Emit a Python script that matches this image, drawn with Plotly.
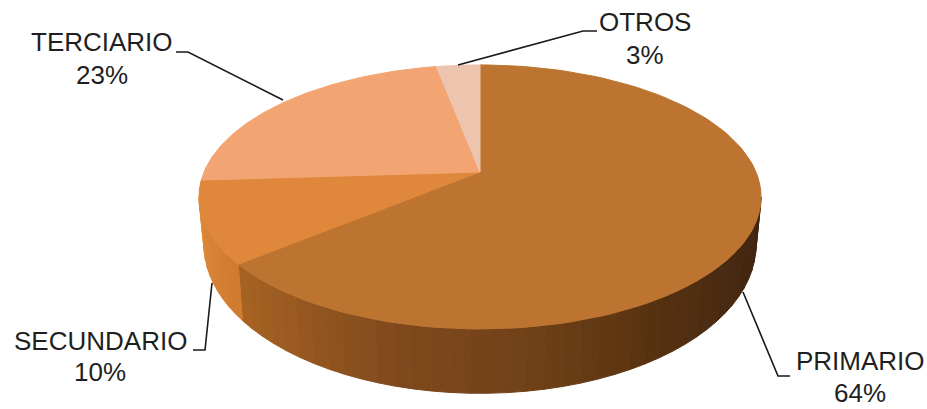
import numpy as np
import plotly.graph_objects as go

# ---- data ----
categories = ["PRIMARIO", "SECUNDARIO", "TERCIARIO", "OTROS"]
shares = [64, 10, 23, 3]

# ---- style ----
top_colors = ["#bc7430", "#df883c", "#f2a573", "#edc5af"]
primary_side_stops = [(100.9, "#3e2310"), (130, "#4a2a12"), (148, "#57320f"), (176, "#744319"),
                      (195, "#80491d"), (215, "#995a20"), (230.4, "#a86322")]
secondary_side_stops = [(230.4, "#cf7a2e"), (259.1, "#e08a3a")]
name_pos = {"PRIMARIO": (860, 361), "SECUNDARIO": (100, 341), "TERCIARIO": (102, 42), "OTROS": (645, 22)}
pct_pos = {"PRIMARIO": (860, 393), "SECUNDARIO": (100, 372), "TERCIARIO": (102, 75), "OTROS": (645, 55)}
leaders = {
    "PRIMARIO": [(743, 292), (778, 376), (790, 376)],
    "SECUNDARIO": [(212, 283), (205, 350), (193, 350)],
    "TERCIARIO": [(283, 100), (188, 52), (176, 52)],
    "OTROS": [(458, 65), (583, 31), (597, 31)],
}
CX, CY, A, B, K = 480, 172, 276, 127.3, 0.189
CY2, A2, B2 = 217, 271, 143


def project(theta_deg, cy=CY, a=A, b=B):
    t = np.radians(theta_deg)
    u, v = np.sin(t), np.cos(t)
    w = 1 + K * v
    return CX + a * u / w, cy - b * v / w


def hex2rgb(h):
    return np.array([int(h[i:i + 2], 16) for i in (1, 3, 5)], float)


def ramp(stops, th):
    xs = [s[0] for s in stops]
    cols = np.array([hex2rgb(s[1]) for s in stops])
    c = [np.interp(th, xs, cols[:, i]) for i in range(3)]
    return "rgb(%d,%d,%d)" % tuple(int(round(x)) for x in c)


fig = go.Figure()


def poly(x, y, color):
    fig.add_trace(go.Scatter(x=list(x), y=list(y), mode="lines", fill="toself", fillcolor=color,
                             line=dict(color=color, width=1), hoverinfo="skip", showlegend=False))


# slice angles from the shares
cum = np.cumsum([0] + shares) * 3.6


# side wall strips
def wall(lo, hi, stops, n):
    edges = np.linspace(lo, hi, n + 1)
    for a0, a1 in zip(edges[:-1], edges[1:]):
        th = np.linspace(a0, a1, 5)
        x1, y1 = project(th)
        x2, y2 = project(th[::-1], CY2, A2, B2)
        poly(np.r_[x1, x2, x1[0]], np.r_[y1, y2, y1[0]], ramp(stops, (a0 + a1) / 2))


wall(100.9, cum[1], primary_side_stops, 40)
wall(cum[1], 259.1, secondary_side_stops, 10)

# top faces
for i in range(len(shares)):
    th = np.linspace(cum[i], cum[i + 1], 120)
    x, y = project(th)
    poly(np.r_[CX, x, CX], np.r_[CY, y, CY], top_colors[i])

# leader lines
for name in categories:
    pts = leaders[name]
    fig.add_trace(go.Scatter(x=[p[0] for p in pts], y=[p[1] for p in pts], mode="lines",
                             line=dict(color="#1a1a1a", width=1.6), hoverinfo="skip", showlegend=False))

# labels
font = dict(family="Liberation Sans, Arial, sans-serif", size=26, color="#1f1f1f")
for name, val in zip(categories, shares):
    x, y = name_pos[name]
    fig.add_annotation(x=x, y=y, text=name, showarrow=False, xanchor="center", yanchor="middle", font=font)
    x, y = pct_pos[name]
    fig.add_annotation(x=x, y=y, text=f"{val}%", showarrow=False, xanchor="center", yanchor="middle", font=font)

fig.update_layout(width=927, height=409, margin=dict(l=0, r=0, t=0, b=0), paper_bgcolor="white",
                  plot_bgcolor="white", showlegend=False,
                  xaxis=dict(range=[0, 927], visible=False, fixedrange=True),
                  yaxis=dict(range=[409, 0], visible=False, fixedrange=True))
fig.write_html("out.html", config={"displayModeBar": False},
               post_script="document.body.style.margin='0';document.body.style.overflow='hidden';")
